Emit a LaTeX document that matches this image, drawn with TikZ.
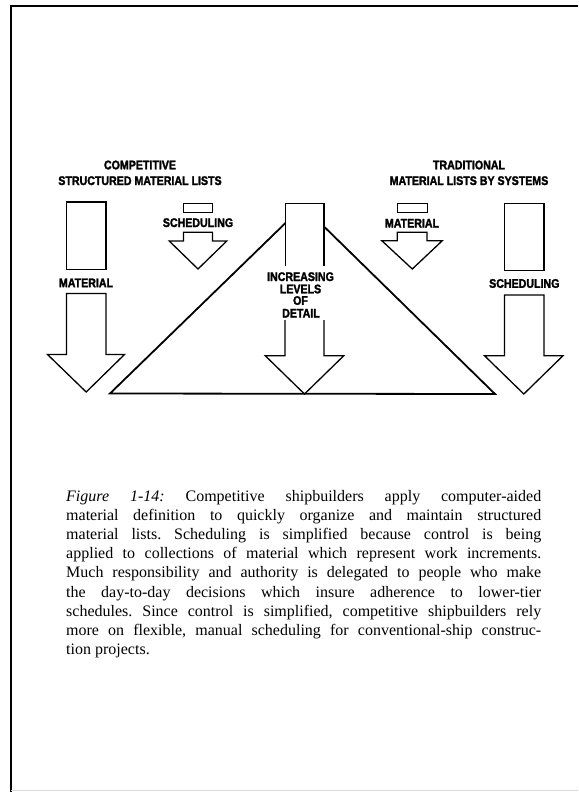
\documentclass[tikz,border=0pt]{standalone}
\usepackage{fontspec}
\setmainfont{Liberation Serif}
\newfontfamily\lblfont{Liberation Sans Bold}[FakeStretch=0.85, FakeBold=2]
\begin{document}
\begin{tikzpicture}[x=1pt,y=-1pt,
  lbl/.style={font=\lblfont\fontsize{12.5}{13}\selectfont, inner sep=0pt, anchor=base},
  outline/.style={line width=1.3pt, line join=miter},
  tri/.style={line width=1.8pt, line join=miter},
  frame/.style={line width=1.8pt},
  capline/.style={font=\frenchspacing\fontsize{16}{19}\selectfont, inner sep=0pt, anchor=base west}]
\useasboundingbox (0,0) rectangle (578,792);

% page frame
\draw[frame] (11,792) -- (11,6) -- (578,6);
\draw[gray!30, line width=0.6pt] (11,790) -- (578,790);

% headings
\node[lbl] (compA) at (140,169.3) {COMPETITIVE};
\node[lbl] (compB) at (140,185) {STRUCTURED MATERIAL LISTS};
\node[lbl] (tradA) at (469,169.3) {TRADITIONAL};
\node[lbl] (tradB) at (469,185) {MATERIAL LISTS BY SYSTEMS};

% triangle of increasing detail
\draw[tri] (110,393.5) -- (303,206) -- (495,394) -- cycle;

% left column: tall material box and large arrow
\draw[outline] (66.5,202) rectangle (106,269.5);
\node[lbl] (lmat) at (86,287.2) {MATERIAL};
\draw[outline] (66.5,293.5) -- (106,293.5) -- (106,354.5) -- (124.5,354.5)
  -- (86.2,392) -- (47.5,354.5) -- (66.5,354.5) -- cycle;

% small scheduling box and arrow
\draw[outline] (183.5,203.5) rectangle (212.5,212.7);
\node[lbl] (lsch) at (198,227) {SCHEDULING};
\draw[outline] (183.5,232.3) -- (212.5,232.3) -- (212.5,241) -- (226.8,241)
  -- (198,269) -- (169.2,241) -- (183.5,241) -- cycle;

% central arrow, split by its label
\fill[white] (285.5,203.3) rectangle (324,268);
\draw[outline] (285.5,266) -- (285.5,203.3) -- (324,203.3) -- (324,266);
\node[lbl] (cA) at (300.5,281) {INCREASING};
\node[lbl] (cB) at (300.5,293.3) {LEVELS};
\node[lbl] (cC) at (300.5,304.8) {OF};
\node[lbl] (cD) at (301,317.5) {DETAIL};
\draw[outline] (285,320) -- (285,355.7) -- (265.2,355.7) -- (304.5,394)
  -- (343.8,355.7) -- (324,355.7) -- (324,320);

% small material box and arrow
\draw[outline] (397.3,203.5) rectangle (427.5,212.7);
\node[lbl] (rmat) at (412,227.5) {MATERIAL};
\draw[outline] (397.3,232.3) -- (427,232.3) -- (427,240.7) -- (442.3,240.7)
  -- (412.3,269) -- (381.8,240.7) -- (397.3,240.7) -- cycle;

% right column: tall scheduling box and large arrow
\draw[outline] (504.5,203.3) rectangle (544,270.5);
\node[lbl] (rsch) at (524.3,287.8) {SCHEDULING};
\draw[outline] (504.5,295) -- (544,295) -- (544,355.7) -- (563,355.7)
  -- (523.8,394) -- (484.5,355.7) -- (504.5,355.7) -- cycle;

% caption, justified line by line
\node[capline] (l1) at (66,501.5) {\makebox[475pt][s]{\textit{Figure 1-14:} Competitive shipbuilders apply computer-aided}};
\node[capline] (l2) at (66,520.6) {\makebox[475pt][s]{material definition to quickly organize and maintain structured}};
\node[capline] (l3) at (66,539.7) {\makebox[475pt][s]{material lists. Scheduling is simplified because control is being}};
\node[capline] (l4) at (66,558.8) {\makebox[475pt][s]{applied to collections of material which represent work increments.}};
\node[capline] (l5) at (66,577.9) {\makebox[475pt][s]{Much responsibility and authority is delegated to people who make}};
\node[capline] (l6) at (66,597.0) {\makebox[475pt][s]{the day-to-day decisions which insure adherence to lower-tier}};
\node[capline] (l7) at (66,616.1) {\makebox[475pt][s]{schedules. Since control is simplified, competitive shipbuilders rely}};
\node[capline] (l8) at (66,635.2) {\makebox[475pt][s]{more on flexible, manual scheduling for conventional-ship construc-}};
\node[capline] (l9) at (66,654.3) {tion projects.};
\end{tikzpicture}
\end{document}
